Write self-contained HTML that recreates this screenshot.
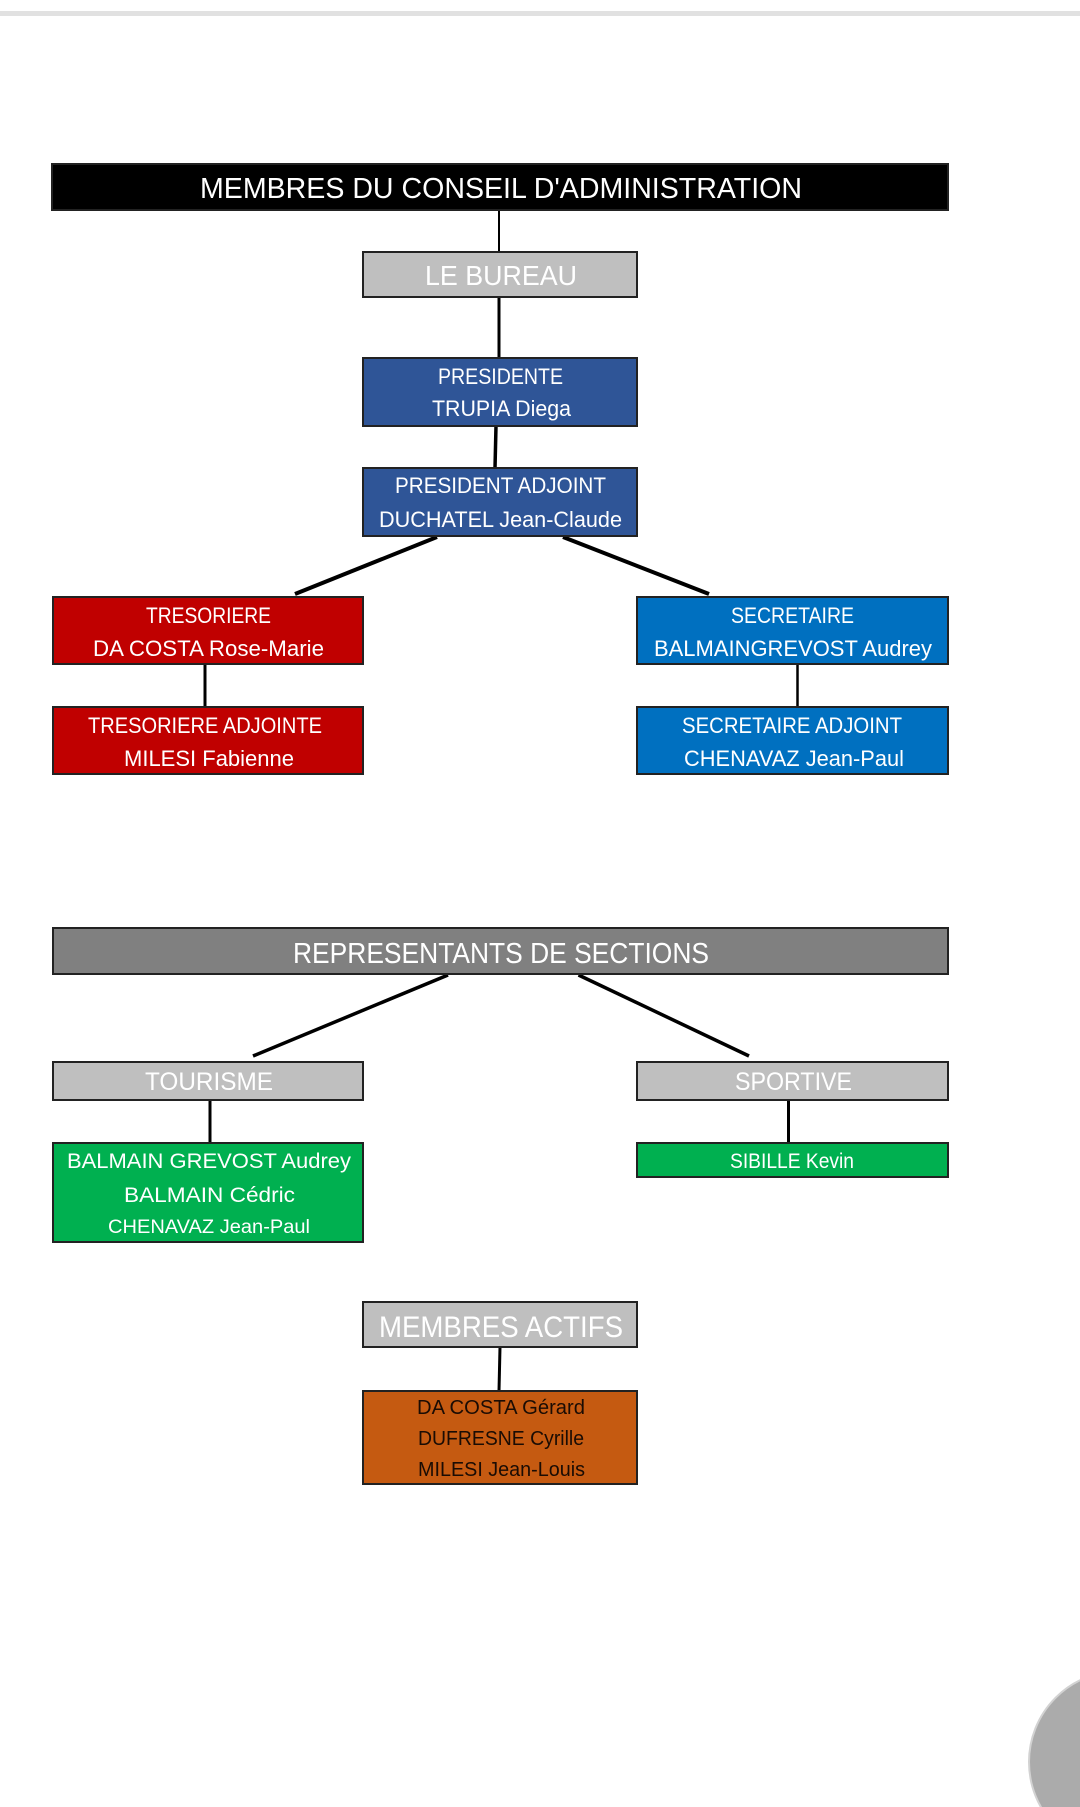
<!DOCTYPE html>
<html>
<head>
<meta charset="utf-8">
<style>
html,body{margin:0;padding:0;background:#fff;}
body{width:1080px;height:1807px;overflow:hidden;}
svg{display:block;}
text{font-family:"Liberation Sans",sans-serif;}
</style>
</head>
<body>
<svg width="1080" height="1807" viewBox="0 0 1080 1807" xmlns="http://www.w3.org/2000/svg">
<rect x="0" y="0" width="1080" height="1807" fill="#ffffff"/>
<rect x="0" y="11" width="1080" height="5" fill="#e1e1e1"/>

<!-- connectors -->
<g stroke="#000" fill="none" stroke-linecap="butt">
<line x1="499" y1="210" x2="499" y2="252" stroke-width="2"/>
<line x1="499" y1="297" x2="499" y2="358" stroke-width="3"/>
<line x1="496" y1="426" x2="495" y2="468" stroke-width="3.5"/>
<line x1="437" y1="537" x2="295" y2="594" stroke-width="4"/>
<line x1="563" y1="537" x2="709" y2="594" stroke-width="4"/>
<line x1="205" y1="664" x2="205" y2="707" stroke-width="3"/>
<line x1="797.5" y1="664" x2="797.5" y2="707" stroke-width="2.5"/>
<line x1="448" y1="975" x2="253" y2="1056" stroke-width="3.5"/>
<line x1="578.5" y1="975" x2="749" y2="1056" stroke-width="3.5"/>
<line x1="210" y1="1101" x2="210" y2="1142" stroke-width="3"/>
<line x1="788.5" y1="1100" x2="788.5" y2="1143" stroke-width="3"/>
<line x1="500" y1="1347" x2="499" y2="1391" stroke-width="3"/>
</g>

<!-- boxes -->
<g stroke="#222" stroke-width="2">
<rect x="52" y="164" width="896" height="46" fill="#000"/>
<rect x="363" y="252" width="274" height="45" fill="#bfbfbf"/>
<rect x="363" y="358" width="274" height="68" fill="#2f5597"/>
<rect x="363" y="468" width="274" height="68" fill="#2f5597"/>
<rect x="53" y="597" width="310" height="67" fill="#c00000"/>
<rect x="637" y="597" width="311" height="67" fill="#0070c0"/>
<rect x="53" y="707" width="310" height="67" fill="#c00000"/>
<rect x="637" y="707" width="311" height="67" fill="#0070c0"/>
<rect x="53" y="928" width="895" height="46" fill="#808080"/>
<rect x="53" y="1062" width="310" height="38" fill="#bfbfbf"/>
<rect x="637" y="1062" width="311" height="38" fill="#bfbfbf"/>
<rect x="53" y="1143" width="310" height="99" fill="#00b050"/>
<rect x="637" y="1143" width="311" height="34" fill="#00b050"/>
<rect x="363" y="1302" width="274" height="45" fill="#bfbfbf"/>
<rect x="363" y="1391" width="274" height="93" fill="#c55a11"/>
</g>

<!-- text -->
<g fill="#ffffff">
<text x="200" y="198" font-size="29" textLength="602" lengthAdjust="spacingAndGlyphs">MEMBRES DU CONSEIL D'ADMINISTRATION</text>
<text x="425" y="285" font-size="28" textLength="152" lengthAdjust="spacingAndGlyphs">LE BUREAU</text>
<text x="438" y="384" font-size="22" textLength="125" lengthAdjust="spacingAndGlyphs">PRESIDENTE</text>
<text x="432" y="416" font-size="22" textLength="139" lengthAdjust="spacingAndGlyphs">TRUPIA Diega</text>
<text x="395" y="493" font-size="22" textLength="211" lengthAdjust="spacingAndGlyphs">PRESIDENT ADJOINT</text>
<text x="379" y="527" font-size="22" textLength="243" lengthAdjust="spacingAndGlyphs">DUCHATEL Jean-Claude</text>
<text x="146" y="623" font-size="22" textLength="125" lengthAdjust="spacingAndGlyphs">TRESORIERE</text>
<text x="93" y="656" font-size="22" textLength="231" lengthAdjust="spacingAndGlyphs">DA COSTA Rose-Marie</text>
<text x="731" y="623" font-size="22" textLength="123" lengthAdjust="spacingAndGlyphs">SECRETAIRE</text>
<text x="654" y="656" font-size="22" textLength="278" lengthAdjust="spacingAndGlyphs">BALMAINGREVOST Audrey</text>
<text x="88" y="733" font-size="22" textLength="234" lengthAdjust="spacingAndGlyphs">TRESORIERE ADJOINTE</text>
<text x="124" y="766" font-size="22" textLength="170" lengthAdjust="spacingAndGlyphs">MILESI Fabienne</text>
<text x="682" y="733" font-size="22" textLength="220" lengthAdjust="spacingAndGlyphs">SECRETAIRE ADJOINT</text>
<text x="684" y="766" font-size="22" textLength="220" lengthAdjust="spacingAndGlyphs">CHENAVAZ Jean-Paul</text>
<text x="293" y="963" font-size="29" textLength="416" lengthAdjust="spacingAndGlyphs">REPRESENTANTS DE SECTIONS</text>
<text x="145" y="1090" font-size="25" textLength="128" lengthAdjust="spacingAndGlyphs">TOURISME</text>
<text x="735" y="1090" font-size="25" textLength="117" lengthAdjust="spacingAndGlyphs">SPORTIVE</text>
<text x="67" y="1168" font-size="21" textLength="284" lengthAdjust="spacingAndGlyphs">BALMAIN GREVOST Audrey</text>
<text x="124" y="1202" font-size="21" textLength="171" lengthAdjust="spacingAndGlyphs">BALMAIN Cédric</text>
<text x="108" y="1233" font-size="19" textLength="202" lengthAdjust="spacingAndGlyphs">CHENAVAZ Jean-Paul</text>
<text x="730" y="1168" font-size="21" textLength="124" lengthAdjust="spacingAndGlyphs">SIBILLE Kevin</text>
<text x="379" y="1337" font-size="30" textLength="244" lengthAdjust="spacingAndGlyphs">MEMBRES ACTIFS</text>
</g>
<g fill="#1a0c04">
<text x="417" y="1414" font-size="20" textLength="168" lengthAdjust="spacingAndGlyphs">DA COSTA Gérard</text>
<text x="418" y="1445" font-size="20" textLength="166" lengthAdjust="spacingAndGlyphs">DUFRESNE Cyrille</text>
<text x="418" y="1476" font-size="20" textLength="167" lengthAdjust="spacingAndGlyphs">MILESI Jean-Louis</text>
</g>

<!-- floating circle -->
<circle cx="1120" cy="1762" r="91" fill="#ababab" stroke="#d2d2d2" stroke-width="2"/>
</svg>
</body>
</html>
